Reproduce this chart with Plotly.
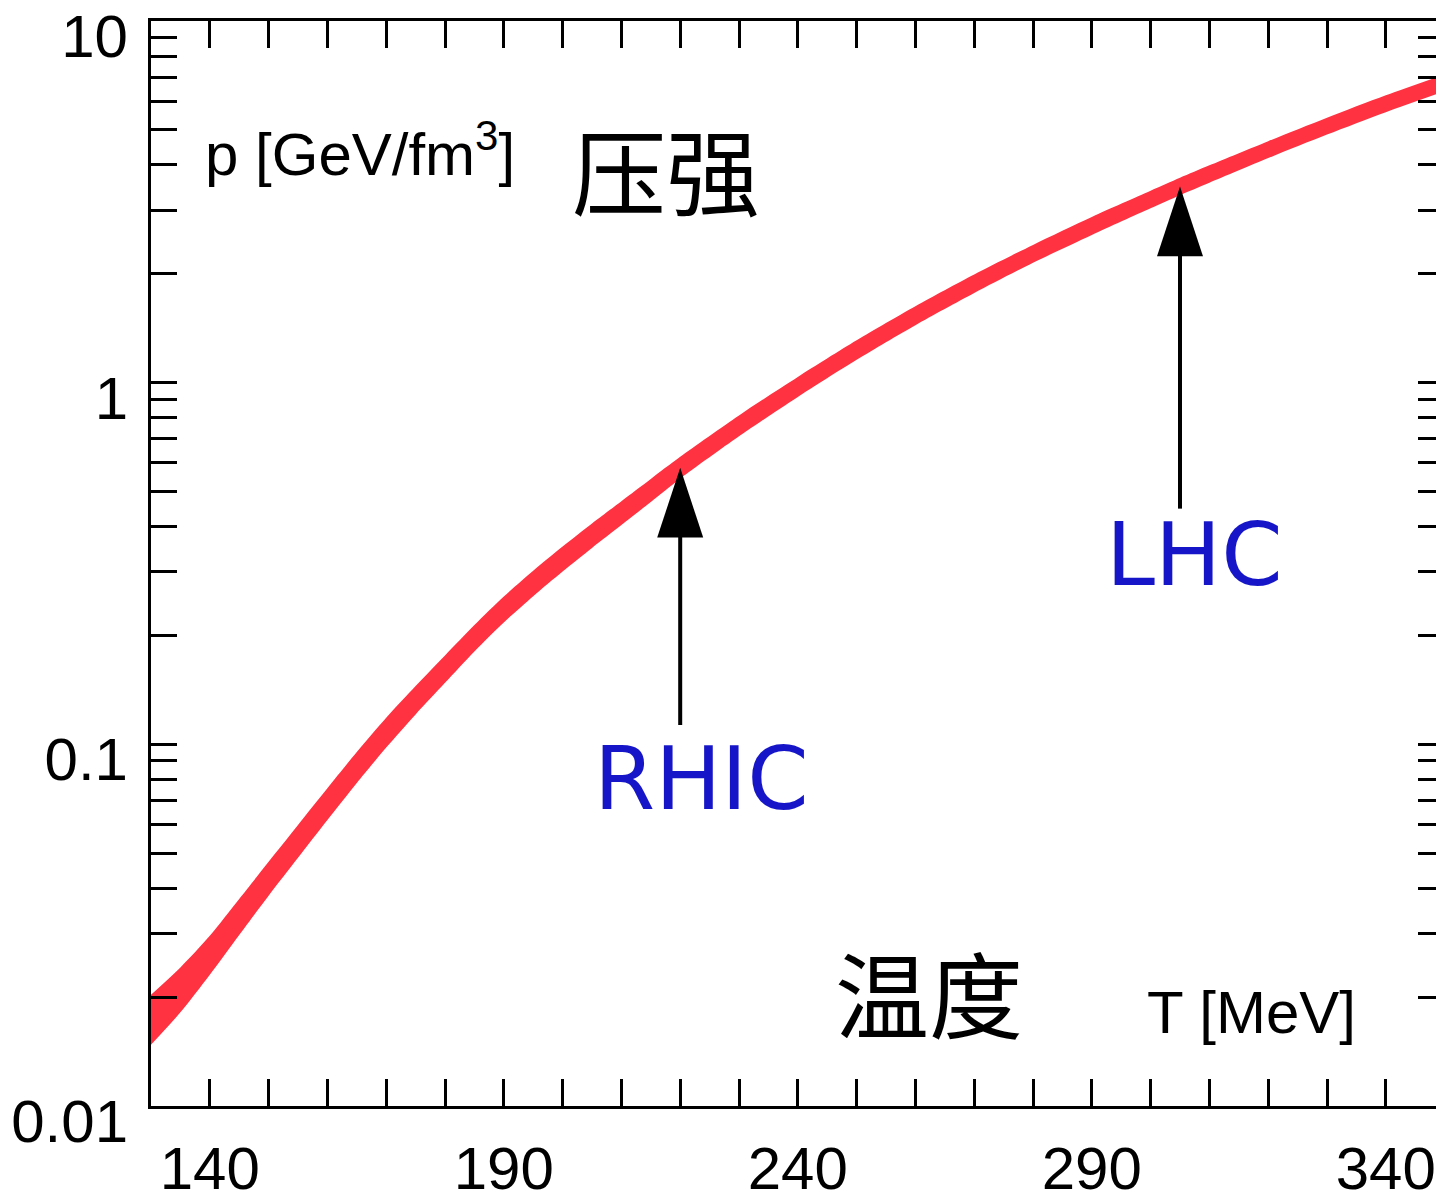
import numpy as np
import plotly.graph_objects as go

# ---------------- data ----------------
T_MeV = [130, 135, 140, 145, 150, 155, 160, 165, 170, 175, 180, 185, 190, 195,
         200, 205, 210, 215, 220, 230, 240, 250, 260, 270, 280, 290, 300, 305,
         310, 320, 330, 340, 350]
p_upper = [0.0203, 0.02415, 0.02954, 0.03734, 0.04735, 0.05988, 0.07565,
           0.09526, 0.1185, 0.1450, 0.1761, 0.2137, 0.2563, 0.3020, 0.3523,
           0.4081, 0.4702, 0.5418, 0.6237, 0.8119, 1.0367, 1.309, 1.627, 1.991,
           2.404, 2.872, 3.393, 3.685, 3.989, 4.654, 5.403, 6.231, 7.119]
p_lower = [0.01477, 0.01815, 0.02306, 0.02971, 0.03815, 0.04857, 0.06176,
           0.07819, 0.09795, 0.1210, 0.1479, 0.1806, 0.2173, 0.2569, 0.3006,
           0.3493, 0.4039, 0.4680, 0.5426, 0.7104, 0.9130, 1.157, 1.442, 1.770,
           2.145, 2.562, 3.036, 3.298, 3.570, 4.177, 4.851, 5.594, 6.392]

x_major = [140, 190, 240, 290, 340]
x_major_labels = ["140", "190", "240", "290", "340"]
x_minor = [150, 160, 170, 180, 200, 210, 220, 230, 250, 260, 270, 280,
           300, 310, 320, 330]
y_major = [0.01, 0.1, 1, 10]
y_major_labels = ["0.01", "0.1", "1", "10"]
y_minor = [2e-2, 3e-2, 4e-2, 5e-2, 6e-2, 7e-2, 8e-2, 9e-2,
           0.2, 0.3, 0.4, 0.5, 0.6, 0.7, 0.8, 0.9,
           2, 3, 4, 5, 6, 7, 8, 9]

arrow_names = ["RHIC", "LHC"]
arrow_T = [220, 305]

# ---------------- layout geometry / style ----------------
W, H = 1436, 1202
PL, PR, PT, PB = 151, 1436, 21, 1109     # plot area in pixels
plot_w = PR - PL
plot_h = PB - PT
x_range = [130, 130 + plot_w / 5.88]
y_log_range = [-2, 1]
px_per_mev = plot_w / (x_range[1] - x_range[0])
px_per_dec = plot_h / (y_log_range[1] - y_log_range[0])

red = "#ff3242"
blue = "#1616c8"
latin = "Liberation Sans, Arial, sans-serif"
cjk = "Noto Sans CJK SC"

fig = go.Figure()

# band
fig.add_trace(go.Scatter(x=T_MeV, y=p_lower, mode="lines",
                         line=dict(width=0, color=red, shape="spline", smoothing=0.8),
                         hoverinfo="skip", showlegend=False))
fig.add_trace(go.Scatter(x=T_MeV, y=p_upper, mode="lines",
                         line=dict(width=0, color=red, shape="spline", smoothing=0.8),
                         fill="tonexty", fillcolor=red, hoverinfo="skip", showlegend=False))

# invisible trace for the right-side tick axis
fig.add_trace(go.Scatter(x=T_MeV, y=p_upper, mode="lines", yaxis="y2", opacity=0,
                         line=dict(width=0), hoverinfo="skip", showlegend=False))

# arrows (tip on the band centre)
log_up = np.log10(p_upper)
log_lo = np.log10(p_lower)
head_len_px = 70
head_half_w_px = 23
shaft_len_px = [258, 323]
for name, tx, sl in zip(arrow_names, arrow_T, shaft_len_px):
    c = (np.interp(tx, T_MeV, log_up) + np.interp(tx, T_MeV, log_lo)) / 2
    tip = 10 ** c
    base = 10 ** (c - head_len_px / px_per_dec)
    bottom = 10 ** (c - sl / px_per_dec)
    hw = head_half_w_px / px_per_mev
    fig.add_trace(go.Scatter(x=[tx, tx], y=[bottom, base * 1.01], mode="lines",
                             line=dict(color="black", width=4), hoverinfo="skip",
                             showlegend=False))
    fig.add_trace(go.Scatter(x=[tx - hw, tx, tx + hw, tx - hw], y=[base, tip, base, base],
                             mode="lines", fill="toself", fillcolor="black",
                             line=dict(color="black", width=0), hoverinfo="skip",
                             showlegend=False))


def px2paper(px, py):
    return (px - PL) / plot_w, (PB - py) / plot_h


annots = []
def add_text(text, px, py, size, color="black", family=latin, xanchor="center"):
    xp, yp = px2paper(px, py)
    annots.append(dict(text=text, x=xp, y=yp, xref="paper", yref="paper",
                       xanchor=xanchor, yanchor="middle", showarrow=False,
                       font=dict(size=size, color=color, family=family)))

add_text("p [GeV/fm<sup>3</sup>]", 203, 150, 60, xanchor="left")
add_text("压强", 666, 168, 94, family=cjk)
add_text("温度", 929, 994, 94, family=cjk)
add_text("T [MeV]", 1145, 1015, 60, xanchor="left")
add_text("RHIC", 701, 781, 88, color=blue, family="DejaVu Sans")
add_text("LHC", 1194, 556, 88, color=blue, family="DejaVu Sans")

axis_common = dict(showgrid=False, zeroline=False, linecolor="black", linewidth=3,
                   tickcolor="black", tickwidth=3, ticks="inside")

fig.update_layout(
    width=W, height=H,
    margin=dict(l=PL, r=W - PR, t=PT, b=H - PB, pad=0),
    paper_bgcolor="white", plot_bgcolor="white",
    showlegend=False,
    annotations=annots,
    xaxis=dict(range=x_range, tickmode="array", tickvals=x_major, ticktext=x_major_labels,
               showline=True, mirror="ticks", ticklen=27,
               minor=dict(tickmode="array", tickvals=x_minor, ticks="inside", ticklen=27,
                          tickcolor="black", tickwidth=3, showgrid=False),
               tickfont=dict(family=latin, size=60, color="black"),
               ticklabelstandoff=8, **axis_common),
    yaxis=dict(type="log", range=y_log_range, tickmode="array", tickvals=y_major,
               ticktext=y_major_labels, showline=True, mirror=False, ticklen=26,
               minor=dict(tickmode="array", tickvals=y_minor, ticks="inside", ticklen=26,
                          tickcolor="black", tickwidth=3, showgrid=False),
               tickfont=dict(family=latin, size=60, color="black"),
               ticklabelshift=15, ticklabelstandoff=8, **axis_common),
    yaxis2=dict(type="log", range=y_log_range, tickmode="array", tickvals=y_major + y_minor,
                overlaying="y", side="right", anchor="x", showline=False,
                showticklabels=False, ticks="inside", ticklen=18, tickcolor="black",
                tickwidth=3, showgrid=False, zeroline=False),
)

fig.write_html("out.html", config={"displayModeBar": False},
               post_script="document.body.style.margin='0';document.body.style.padding='0';")
